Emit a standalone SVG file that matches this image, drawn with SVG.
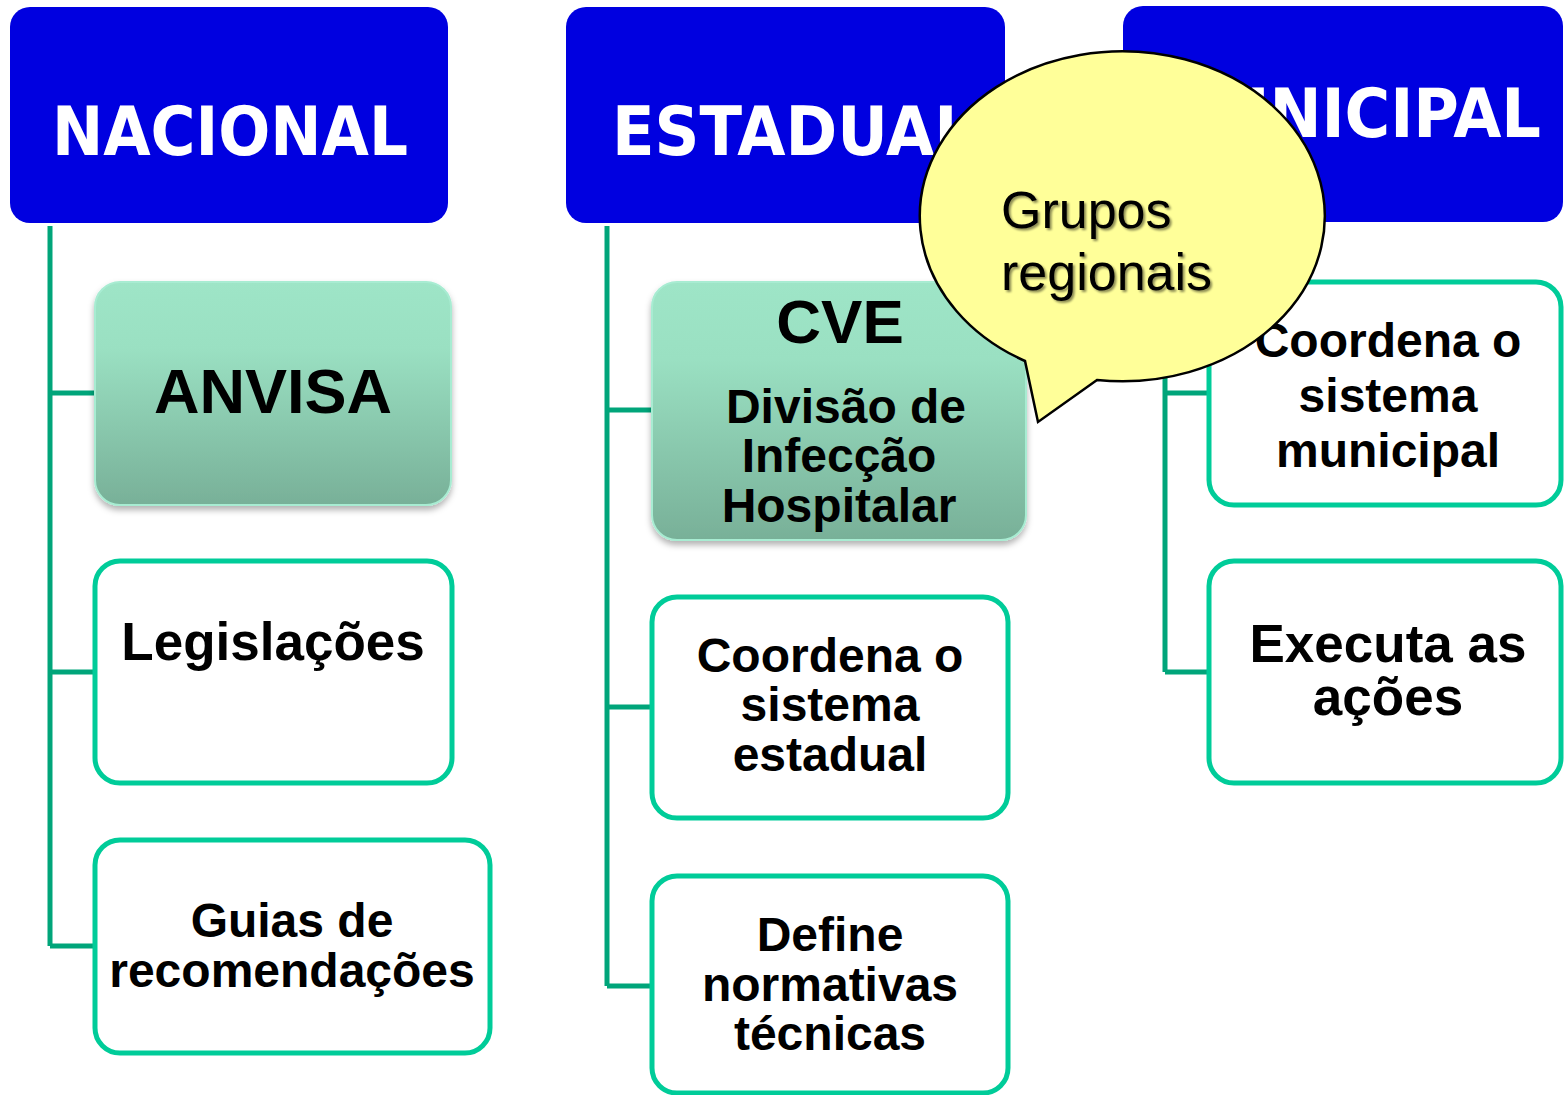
<svg xmlns="http://www.w3.org/2000/svg" width="1564" height="1095" viewBox="0 0 1564 1095">
<style>
.hdr{fill:#0000e0}
.htxt{font-family:"DejaVu Sans",Verdana,sans-serif;font-weight:bold;font-size:67px;fill:#fff}
.box{fill:#fff;stroke:#00cc99;stroke-width:5}
.gbox{fill:url(#g);stroke:#a8ecd2;stroke-width:2;filter:url(#sh)}
.t{font-family:"Liberation Sans",Arial,sans-serif;font-weight:bold;fill:#000;text-anchor:middle}
.con{fill:none;stroke:#00a57a;stroke-width:5}
.ct{font-family:"Liberation Sans",Arial,sans-serif;font-size:52px;fill:#000}
</style>
<defs>
<linearGradient id="g" x1="0" y1="0" x2="0" y2="1">
<stop offset="0" stop-color="#9ee5c7"/>
<stop offset="0.3" stop-color="#9ae0c2"/>
<stop offset="1" stop-color="#78b098"/>
</linearGradient>
<filter id="sh" x="-10%" y="-10%" width="120%" height="130%">
<feDropShadow dx="0" dy="4" stdDeviation="3" flood-color="#000" flood-opacity="0.3"/>
</filter>
<filter id="ts" x="-10%" y="-20%" width="120%" height="140%">
<feDropShadow dx="2" dy="2" stdDeviation="1.2" flood-color="#000" flood-opacity="0.45"/>
</filter>
</defs>

<g id="connectors">
<path class="con" d="M50,226V946M50,393H95M50,672H95M50,946H95"/>
<path class="con" d="M607,226V986M607,410H652M607,707H652M607,986H652"/>
<path class="con" d="M1165,226V672M1165,393H1209M1165,672H1209"/>
</g>

<g id="nacional">
<rect class="hdr" x="10" y="7" width="438" height="216" rx="20"/>
<text class="htxt" x="52" y="155" textLength="356" lengthAdjust="spacingAndGlyphs">NACIONAL</text>
</g>
<g id="estadual">
<rect class="hdr" x="566" y="7" width="439" height="216" rx="20"/>
<text class="htxt" x="612" y="155" textLength="362" lengthAdjust="spacingAndGlyphs">ESTADUAL</text>
</g>
<g id="municipal">
<rect class="hdr" x="1123" y="6" width="440" height="216" rx="20"/>
<text class="htxt" x="1157" y="137" textLength="384" lengthAdjust="spacingAndGlyphs">MUNICIPAL</text>
</g>

<g id="anvisa">
<rect class="gbox" x="95" y="282" width="356" height="223" rx="25"/>
<text class="t" x="273" y="413" font-size="63">ANVISA</text>
</g>
<g id="legislacoes">
<rect class="box" x="95" y="561" width="357" height="222" rx="25"/>
<text class="t" x="273" y="660" font-size="53">Legislações</text>
</g>
<g id="guias">
<rect class="box" x="95" y="840" width="395" height="213" rx="25"/>
<text class="t" x="292" y="937" font-size="48">Guias de</text>
<text class="t" x="292" y="987" font-size="48">recomendações</text>
</g>

<g id="cve">
<rect class="gbox" x="652" y="282" width="374" height="258" rx="25"/>
<text class="t" x="840" y="343" font-size="62">CVE</text>
<text class="t" x="846" y="423" font-size="48">Divisão de</text>
<text class="t" x="839" y="472" font-size="48">Infecção</text>
<text class="t" x="839" y="522" font-size="48">Hospitalar</text>
</g>
<g id="coordena-estadual">
<rect class="box" x="652" y="597" width="356" height="221" rx="25"/>
<text class="t" x="830" y="672" font-size="48">Coordena o</text>
<text class="t" x="830" y="721" font-size="48">sistema</text>
<text class="t" x="830" y="771" font-size="48">estadual</text>
</g>
<g id="define">
<rect class="box" x="652" y="876" width="356" height="217" rx="25"/>
<text class="t" x="830" y="951" font-size="48">Define</text>
<text class="t" x="830" y="1001" font-size="48">normativas</text>
<text class="t" x="830" y="1050" font-size="48">técnicas</text>
</g>

<g id="coordena-municipal">
<rect class="box" x="1209" y="282" width="352" height="223" rx="25"/>
<text class="t" x="1388" y="357" font-size="48">Coordena o</text>
<text class="t" x="1388" y="412" font-size="48">sistema</text>
<text class="t" x="1388" y="467" font-size="48">municipal</text>
</g>
<g id="executa">
<rect class="box" x="1209" y="561" width="352" height="222" rx="25"/>
<text class="t" x="1388" y="662" font-size="53">Executa as</text>
<text class="t" x="1388" y="715" font-size="53">ações</text>
</g>

<g id="callout">
<path d="M1097,380 A202.5,165 0 1 0 1025,361 L1038,422 Z" fill="#ffff99" stroke="#000" stroke-width="2.5" stroke-linejoin="miter"/>
<text class="ct" x="1001" y="228" filter="url(#ts)">Grupos</text>
<text class="ct" x="1001" y="290" filter="url(#ts)">regionais</text>
</g>
</svg>
